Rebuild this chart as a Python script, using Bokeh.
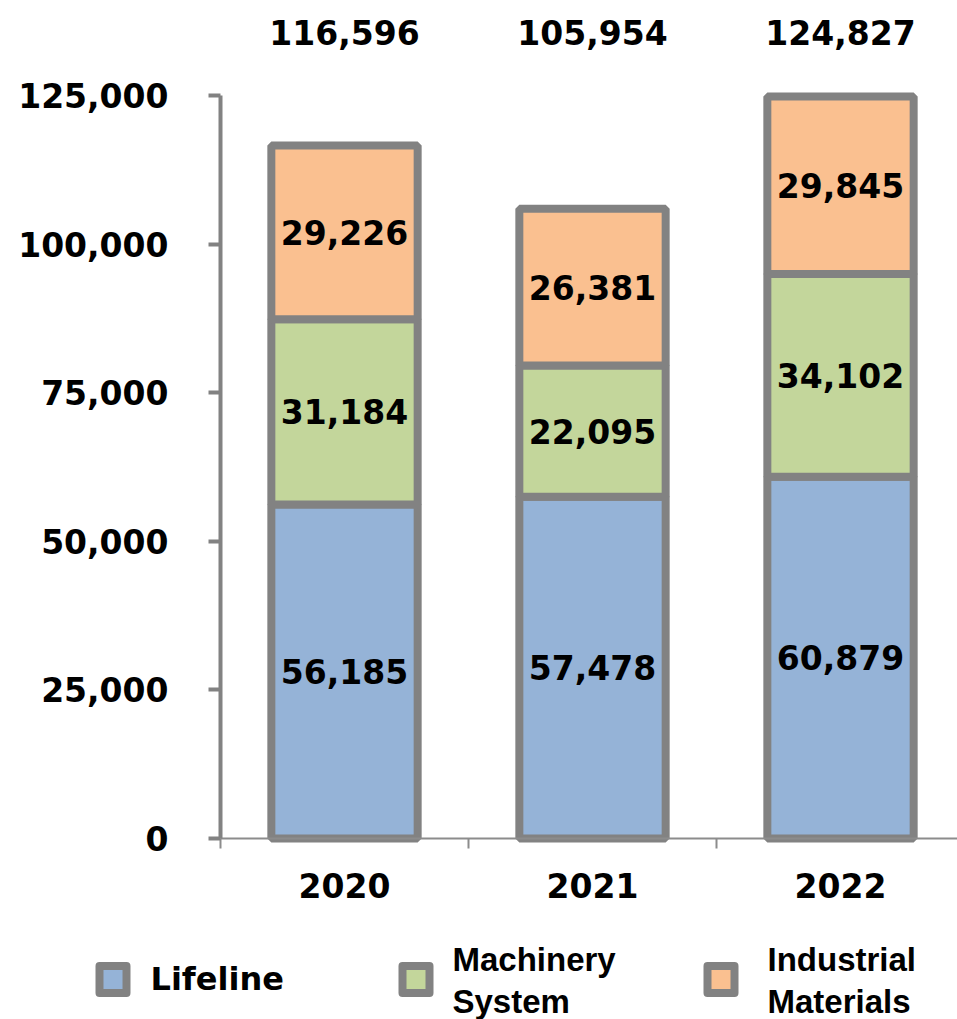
from bokeh.plotting import figure
from bokeh.models import Range1d, FixedTicker, NumeralTickFormatter, ColumnDataSource
from bokeh.core.properties import value
from bokeh.embed import file_html
from bokeh.resources import INLINE

# ---- data ----
years = ["2020", "2021", "2022"]
series = ["Lifeline", "Machinery System", "Industrial Materials"]
lifeline = [56185, 57478, 60879]
machinery = [31184, 22095, 34102]
industrial = [29226, 26381, 29845]
totals = [116596, 105954, 124827]
y_ticks = [0, 25000, 50000, 75000, 100000, 125000]
colors = ["#95B3D7", "#C3D69B", "#FAC090"]

EDGE = "#828282"
NUM_FONT = "DejaVu Sans"

W, H = 957, 1019
# layout geometry (pixels)
X0_PX, Y0_PX = 220, 838          # position of data origin
CAT_PX = 248                     # pixels per category
VAL_PER_PX = 125000 / 743        # value units per pixel

def vx(px):  # px -> data x
    return (px - X0_PX) / CAT_PX

def vy(py):  # px from top -> data y
    return (Y0_PX - py) * VAL_PER_PX

x_pos = [i + 0.5 for i in range(len(years))]

p = figure(width=W, height=H, output_backend="svg", toolbar_location=None,
           x_range=Range1d(vx(0), vx(W)), y_range=Range1d(vy(H), vy(0)),
           min_border=0, outline_line_color=None)
p.xgrid.visible = False
p.ygrid.visible = False

src = ColumnDataSource(dict(x=x_pos, Lifeline=lifeline, Machinery=machinery,
                            Industrial=industrial))
p.vbar_stack(["Lifeline", "Machinery", "Industrial"], x="x", width=0.59,
             source=src, fill_color=colors, line_color=EDGE, line_width=8)

# segment labels
lx, ly, lt = [], [], []
for i in range(len(years)):
    base = 0
    for arr in (lifeline, machinery, industrial):
        v = arr[i]
        lx.append(x_pos[i])
        ly.append(base + v / 2)
        lt.append(f"{v:,}")
        base += v
p.text(x=lx, y=ly, text=lt, text_font=value(NUM_FONT), text_font_style="bold",
       text_font_size="33px", text_align="center", text_baseline="middle",
       text_color="black")

# totals above
p.text(x=x_pos, y=[vy(32)] * len(totals), text=[f"{t:,}" for t in totals],
       text_font=value(NUM_FONT), text_font_style="bold", text_font_size="33px",
       text_align="center", text_baseline="middle", text_color="black")

# y axis
ya = p.yaxis[0]
ya.fixed_location = 0
ya.ticker = FixedTicker(ticks=y_ticks)
ya.formatter = NumeralTickFormatter(format="0,0")
ya.bounds = (0, 125000)
ya.axis_line_color = EDGE
ya.axis_line_width = 4
ya.major_tick_line_color = EDGE
ya.major_tick_line_width = 4
ya.major_tick_out = 12
ya.major_tick_in = 0
ya.minor_tick_line_color = None
ya.major_label_standoff = 40
ya.major_label_text_font = NUM_FONT
ya.major_label_text_font_style = "bold"
ya.major_label_text_font_size = "33px"
ya.major_label_text_color = "black"

# x axis
xa = p.xaxis[0]
xa.fixed_location = 0
xa.bounds = (0, 3)
xa.ticker = FixedTicker(ticks=x_pos, minor_ticks=[0, 1, 2])
xa.major_label_overrides = {x: y for x, y in zip(x_pos, years)}
xa.axis_line_color = "#8c8c8c"
xa.axis_line_width = 2
xa.major_tick_line_color = None
xa.minor_tick_line_color = "#8c8c8c"
xa.minor_tick_line_width = 2
xa.minor_tick_out = 10
xa.minor_tick_in = 0
xa.major_label_standoff = 24
xa.major_label_text_font = NUM_FONT
xa.major_label_text_font_style = "bold"
xa.major_label_text_font_size = "33px"
xa.major_label_text_color = "black"

# ---- legend ----
sw_px = [112.5, 415.5, 720.5]
p.scatter(x=[vx(s) for s in sw_px], y=[vy(979)] * 3, marker="square", size=27,
          fill_color=colors, line_color=EDGE, line_width=8, line_join="round")

txt_px = [150, 452, 767]
p.text(x=[vx(txt_px[0])], y=[vy(978)], text=[series[0]], text_font=value(NUM_FONT),
       text_font_style="bold", text_font_size="32px", text_align="left",
       text_baseline="middle", text_color="black")
tx, ty, tt = [], [], []
for i in (1, 2):
    for j, w in enumerate(series[i].split(" ")):
        tx.append(vx(txt_px[i]))
        ty.append(vy(959 + 42 * j))
        tt.append(w)
p.text(x=tx, y=ty, text=tt, text_font=value("Liberation Sans"),
       text_font_style="bold", text_font_size="33px", text_align="left",
       text_baseline="middle", text_color="black")

open("out.html", "w").write(file_html(p, INLINE))
